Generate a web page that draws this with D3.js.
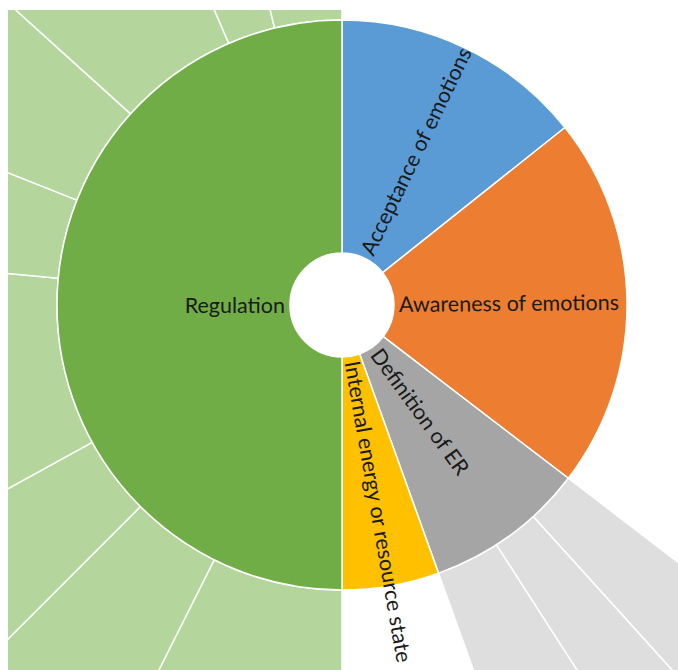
<!DOCTYPE html>
<html>
<head>
<meta charset="utf-8">
<script src="https://cdn.jsdelivr.net/npm/d3@7"></script>
<style>
  body { margin: 0; background: #fff; }
  text { font-family: Lato, "Open Sans", sans-serif; }
</style>
</head>
<body>
<svg id="chart" width="678" height="670"></svg>
<script>
// inner ring, clockwise from 12 o'clock
const categories = ['Acceptance of emotions', 'Awareness of emotions', 'Definition of ER',
                    'Internal energy or resource state', 'Regulation'];
const categoryColors = ['#5b9bd5', '#ed7d31', '#a5a5a5', '#ffc000', '#70ad47'];
const childColors = [null, null, '#dedede', null, '#b4d69c'];
// share of the circle (%) for categories without an outer ring
const categoryValues = [14.3, 21.1, null, 5.5, null];
// outer ring segments (%), clockwise
const definitionParts = [2.9, 2.6, 3.6];
const regulationParts = [7.4, 5.1, 4.5, 9.5, 4.5, 5.7, 6.8, 2.7, 3.8];

let width = 678;
let height = 670;
let cx = 342, cy = 305;

let childParts = { 'Definition of ER': definitionParts, 'Regulation': regulationParts };

let data = {
    name: 'root',
    children: categories.map((c, i) => childParts[c]
        ? { name: c, idx: i, children: childParts[c].map((v, j) => ({ name: c + ' ' + (j + 1), idx: i, value: v })) }
        : { name: c, idx: i, value: categoryValues[i] })
};

let root = d3.hierarchy(data).sum(d => d.value || 0);
d3.partition().size([2 * Math.PI, 1])(root);

// ring radius by depth
let radius = d3.scaleLinear().domain([1, 2, 3]).range([52, 285, 520]);

let arc = d3.arc()
            .startAngle(d => d.x0)
            .endAngle(d => d.x1)
            .innerRadius(d => radius(d.depth))
            .outerRadius(d => radius(d.depth + 1));

let svg = d3.select('#chart')
            .attr('viewBox', `0 0 ${width} ${height}`);

svg.append('clipPath')
   .attr('id', 'crop')
   .append('rect')
   .attr('x', 8).attr('y', 10)
   .attr('width', width - 8).attr('height', height - 10);

let g = svg.append('g')
           .attr('clip-path', 'url(#crop)')
           .append('g')
           .attr('transform', `translate(${cx},${cy})`);

let nodes = root.descendants().filter(d => d.depth > 0);

// outer ring first so the inner ring's edges sit on top
g.selectAll('path')
 .data(nodes.sort((a, b) => b.depth - a.depth))
 .enter().append('path')
 .attr('d', arc)
 .attr('fill', d => d.depth === 1 ? categoryColors[d.data.idx] : childColors[d.data.idx])
 .attr('stroke', '#fff')
 .attr('stroke-width', 1.5);

let labels = g.append('g');
root.children.forEach(d => {
    let a = (d.x0 + d.x1) / 2 * 180 / Math.PI;
    let flip = a > 180;
    labels.append('text')
          .attr('transform', `rotate(${a - 90}) translate(${radius(1) + 5},0)` + (flip ? ' rotate(180)' : ''))
          .attr('text-anchor', flip ? 'end' : 'start')
          .attr('dy', '0.35em')
          .attr('font-size', 21.5)
          .attr('fill', '#1a1a1a')
          .text(d.data.name);
});
</script>
</body>
</html>
